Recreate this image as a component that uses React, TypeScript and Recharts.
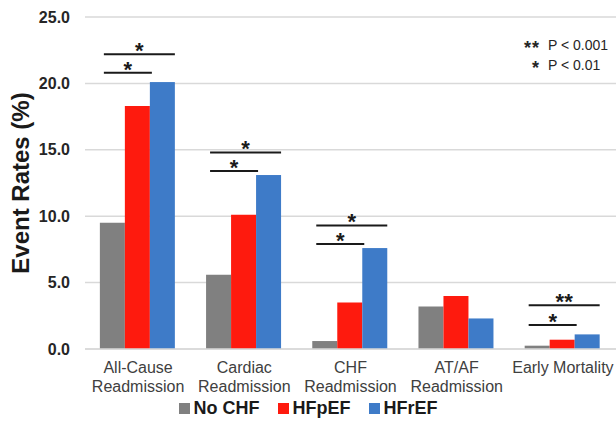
import { BarChart, Bar, XAxis, YAxis, CartesianGrid, Legend } from 'recharts';

const categories = ['All-Cause\nReadmission', 'Cardiac\nReadmission', 'CHF\nReadmission', 'AT/AF\nReadmission', 'Early Mortality'];
const noChf = [9.5, 5.6, 0.6, 3.2, 0.25];
const hfpef = [18.3, 10.1, 3.5, 4.0, 0.7];
const hfref = [20.1, 13.1, 7.6, 2.3, 1.1];
// significance brackets (height in %), lower = No CHF vs HFpEF, upper = No CHF vs HFrEF
const lowerBracket = [20.8, 13.4, 7.9, null, 1.8];
const upperBracket = [22.2, 14.8, 9.3, null, 3.3];
const lowerMark = ['*', '*', '*', null, '*'];
const upperMark = ['*', '*', '*', null, '**'];
const yTicks = [0, 5, 10, 15, 20, 25];

const COLORS = { noChf: '#808080', hfpef: '#fe1a0e', hfref: '#3e7bc8' };
const FONT = '"Liberation Sans", Arial, sans-serif';

const data = categories.map((name, i) => ({
  name,
  noChf: noChf[i],
  hfpef: hfpef[i],
  hfref: hfref[i],
  lower: lowerBracket[i],
  upper: upperBracket[i],
  lowerMark: lowerMark[i],
  upperMark: upperMark[i],
}));

function CategoryTick({ x, y, payload }: any) {
  const lines = String(payload.value).split('\n');
  return (
    <text x={x} y={y} textAnchor="middle" fill="#404040" fontSize={16} fontFamily={FONT}>
      {lines.map((l, i) => (
        <tspan key={i} x={x} dy={i === 0 ? 16 : 19}>{l}</tspan>
      ))}
    </text>
  );
}

function BracketBar(props: any) {
  const { x, y, width, height, payload, fill } = props;
  const base = y + height;
  const ppu = height / payload.hfref;
  const left = x - 2 * width + 4;
  const items: any[] = [];
  if (payload.lower != null) {
    const ly = base - payload.lower * ppu;
    const uy = base - payload.upper * ppu;
    const lEnd = x + 2;
    const uEnd = x + width;
    items.push(
      <g key="b">
        <line x1={left} x2={lEnd} y1={ly} y2={ly} stroke="#1a1a1a" strokeWidth={2} />
        <text x={(left + lEnd) / 2} y={ly + 4} textAnchor="middle" fontSize={22} fontWeight={700} fontFamily={FONT} fill="#1a1a1a">{payload.lowerMark}</text>
        <line x1={left} x2={uEnd} y1={uy} y2={uy} stroke="#1a1a1a" strokeWidth={2} />
        <text x={(left + uEnd) / 2} y={uy + 4} textAnchor="middle" fontSize={22} fontWeight={700} fontFamily={FONT} fill="#1a1a1a">{payload.upperMark}</text>
      </g>
    );
  }
  return (
    <g>
      <rect x={x} y={y} width={width} height={height} fill={fill} />
      {items}
    </g>
  );
}

const legendItems = [
  { label: 'No CHF', color: COLORS.noChf },
  { label: 'HFpEF', color: COLORS.hfpef },
  { label: 'HFrEF', color: COLORS.hfref },
];

function LegendContent() {
  return (
    <div style={{ display: 'flex', justifyContent: 'center', alignItems: 'center', gap: 18, fontFamily: FONT, fontWeight: 700, fontSize: 18, color: '#1a1a1a' }}>
      {legendItems.map((it) => (
        <div key={it.label} style={{ display: 'flex', alignItems: 'center', gap: 4 }}>
          <span style={{ display: 'inline-block', width: 11, height: 11, background: it.color }} />
          <span>{it.label}</span>
        </div>
      ))}
    </div>
  );
}

const starStyle = { width: 40, textAlign: 'right' as const, fontSize: 18, fontWeight: 700, letterSpacing: 1, lineHeight: '20px', marginRight: 8, position: 'relative' as const, top: 3 };

export default function App() {
  return (
    <div style={{ position: 'absolute', left: 0, top: 0, width: 616, height: 430, background: '#fff' }}>
      <BarChart
        width={616}
        height={430}
        data={data}
        margin={{ top: 17, right: 0, left: 0, bottom: 10 }}
        barCategoryGap="14%"
        barGap={0}
      >
        <CartesianGrid vertical={false} stroke="#d9d9d9" strokeWidth={1.5} />
        <XAxis
          dataKey="name"
          tick={<CategoryTick />}
          tickLine={false}
          axisLine={{ stroke: '#d9d9d9', strokeWidth: 1.5 }}
          height={49}
          interval={0}
        />
        <YAxis
          domain={[0, 25]}
          ticks={yTicks}
          tickFormatter={(v: number) => v.toFixed(1)}
          tick={{ fontSize: 16, fontWeight: 700, fill: '#262626', fontFamily: FONT }}
          tickLine={false}
          axisLine={false}
          tickMargin={9}
          width={85}
          label={{ value: 'Event Rates (%)', angle: -90, position: 'insideLeft', offset: 20, style: { textAnchor: 'middle', fontSize: 24, fontWeight: 700, fill: '#1a1a1a', fontFamily: FONT } }}
        />
        <Legend verticalAlign="bottom" height={22} content={<LegendContent />} />
        <Bar dataKey="noChf" name="No CHF" fill={COLORS.noChf} isAnimationActive={false} />
        <Bar dataKey="hfpef" name="HFpEF" fill={COLORS.hfpef} isAnimationActive={false} />
        <Bar dataKey="hfref" name="HFrEF" fill={COLORS.hfref} isAnimationActive={false} shape={<BracketBar />} />
      </BarChart>
      <div style={{ position: 'absolute', left: 500, top: 35, fontFamily: FONT, color: '#262626', fontSize: 14, lineHeight: '20px' }}>
        <div style={{ display: 'flex', alignItems: 'center' }}>
          <span style={starStyle}>**</span>
          <span>P &lt; 0.001</span>
        </div>
        <div style={{ display: 'flex', alignItems: 'center' }}>
          <span style={starStyle}>*</span>
          <span>P &lt; 0.01</span>
        </div>
      </div>
    </div>
  );
}
